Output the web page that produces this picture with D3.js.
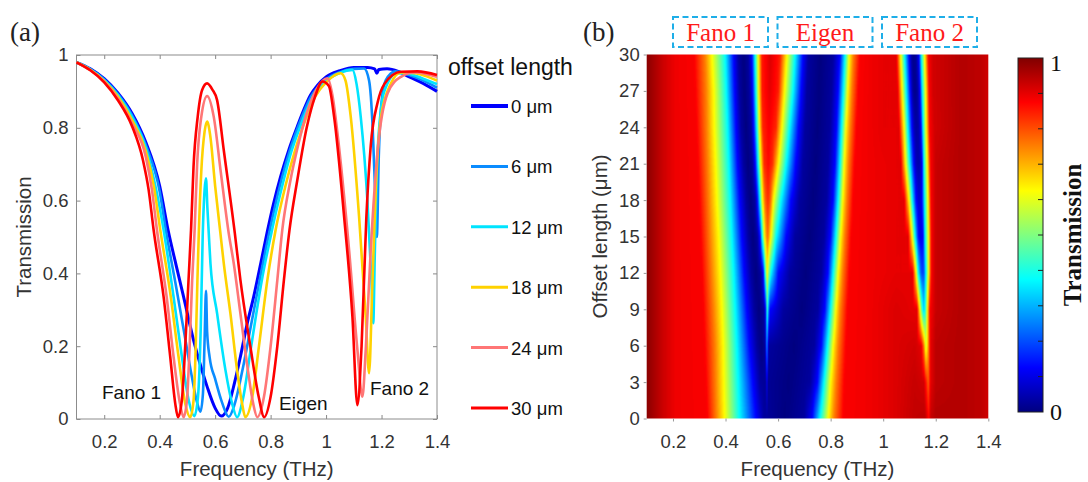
<!DOCTYPE html>
<html lang="en">
<head>
<meta charset="utf-8">
<title>Transmission vs offset length</title>
<script src="https://cdn.jsdelivr.net/npm/d3@7"></script>
<style>
  body { margin: 0; background: #fff; }
  svg { display: block; }
</style>
</head>
<body>
<svg id="chart" width="1088" height="482"></svg>
<script>

// ---- data ----
const offsets = [0, 6, 12, 18, 24, 30];
const offsetLabels = ["0 μm", "6 μm", "12 μm", "18 μm", "24 μm", "30 μm"];
const lineColors = ["#0000ff", "#0a8cff", "#00e4ff", "#ffd200", "#ff7676", "#ff0000"];

// transmission curves, [frequency THz, T]
const curve0 = [[0.1,0.98],[0.15,0.962],[0.2,0.935],[0.25,0.895],[0.3,0.84],[0.35,0.76],[0.4,0.64],[0.43,0.52],[0.46,0.42],[0.486,0.336],[0.522,0.217],[0.55,0.14],[0.571,0.089],[0.6,0.03],[0.622,0.008],[0.645,0.03],[0.67,0.1],[0.691,0.171],[0.715,0.26],[0.739,0.336],[0.765,0.43],[0.788,0.515],[0.81,0.59],[0.836,0.666],[0.866,0.74],[0.896,0.803],[0.92,0.85],[0.944,0.89],[0.97,0.918],[1.0,0.94],[1.05,0.957],[1.1,0.966],[1.15,0.966],[1.175,0.962],[1.183,0.95],[1.19,0.96],[1.22,0.962],[1.26,0.955],[1.3,0.94],[1.35,0.922],[1.4,0.9]];
const curve6 = [[0.1,0.98],[0.15,0.961],[0.2,0.933],[0.25,0.892],[0.3,0.835],[0.35,0.752],[0.4,0.625],[0.422,0.52],[0.46,0.36],[0.49,0.23],[0.515,0.12],[0.535,0.045],[0.547,0.02],[0.556,0.07],[0.562,0.22],[0.567,0.352],[0.571,0.24],[0.58,0.17],[0.6,0.11],[0.625,0.045],[0.649,0.006],[0.67,0.04],[0.7,0.14],[0.73,0.26],[0.76,0.38],[0.797,0.519],[0.84,0.66],[0.87,0.74],[0.9,0.805],[0.945,0.885],[1.0,0.933],[1.05,0.953],[1.1,0.962],[1.137,0.963],[1.155,0.93],[1.168,0.8],[1.177,0.62],[1.183,0.5],[1.19,0.72],[1.2,0.87],[1.215,0.93],[1.25,0.955],[1.3,0.945],[1.35,0.93],[1.4,0.91]];
const curve12 = [[0.1,0.98],[0.15,0.96],[0.2,0.931],[0.25,0.889],[0.3,0.83],[0.35,0.745],[0.39,0.62],[0.414,0.52],[0.45,0.336],[0.48,0.171],[0.505,0.05],[0.525,0.008],[0.538,0.06],[0.548,0.25],[0.555,0.5],[0.562,0.63],[0.567,0.661],[0.572,0.58],[0.577,0.51],[0.583,0.428],[0.607,0.29],[0.637,0.135],[0.661,0.043],[0.679,0.005],[0.7,0.055],[0.73,0.2],[0.768,0.38],[0.805,0.519],[0.845,0.65],[0.875,0.735],[0.905,0.8],[0.95,0.882],[1.0,0.928],[1.05,0.951],[1.095,0.959],[1.11,0.92],[1.125,0.83],[1.149,0.6],[1.164,0.373],[1.17,0.263],[1.176,0.464],[1.186,0.739],[1.21,0.9],[1.256,0.95],[1.3,0.948],[1.35,0.935],[1.4,0.92]];
const curve18 = [[0.1,0.98],[0.15,0.959],[0.2,0.929],[0.25,0.885],[0.3,0.822],[0.35,0.735],[0.38,0.635],[0.402,0.52],[0.44,0.336],[0.468,0.171],[0.492,0.043],[0.51,0.005],[0.522,0.05],[0.53,0.2],[0.536,0.38],[0.541,0.51],[0.55,0.68],[0.562,0.79],[0.571,0.817],[0.582,0.78],[0.6,0.64],[0.619,0.51],[0.631,0.428],[0.655,0.29],[0.679,0.135],[0.697,0.043],[0.709,0.005],[0.734,0.061],[0.758,0.2],[0.788,0.38],[0.818,0.519],[0.855,0.645],[0.885,0.73],[0.915,0.8],[0.96,0.885],[1.0,0.925],[1.053,0.95],[1.07,0.93],[1.089,0.83],[1.119,0.556],[1.143,0.281],[1.155,0.126],[1.167,0.373],[1.18,0.647],[1.198,0.83],[1.234,0.922],[1.27,0.952],[1.32,0.95],[1.36,0.942],[1.4,0.93]];
const curve24 = [[0.1,0.98],[0.15,0.958],[0.2,0.927],[0.25,0.88],[0.3,0.813],[0.35,0.72],[0.372,0.63],[0.39,0.52],[0.425,0.336],[0.45,0.171],[0.473,0.043],[0.486,0.005],[0.498,0.05],[0.508,0.2],[0.517,0.38],[0.526,0.52],[0.535,0.7],[0.55,0.83],[0.571,0.887],[0.595,0.83],[0.62,0.68],[0.649,0.51],[0.667,0.428],[0.691,0.29],[0.718,0.135],[0.737,0.043],[0.752,0.005],[0.776,0.061],[0.8,0.2],[0.824,0.38],[0.842,0.519],[0.87,0.65],[0.9,0.755],[0.93,0.84],[0.965,0.905],[1.005,0.936],[1.025,0.88],[1.041,0.785],[1.083,0.464],[1.113,0.19],[1.131,0.061],[1.143,0.19],[1.161,0.464],[1.186,0.739],[1.222,0.895],[1.27,0.94],[1.32,0.952],[1.36,0.948],[1.4,0.94]];
const curve30 = [[0.1,0.98],[0.15,0.958],[0.2,0.925],[0.25,0.875],[0.3,0.805],[0.34,0.71],[0.36,0.63],[0.378,0.52],[0.414,0.336],[0.438,0.171],[0.456,0.043],[0.466,0.005],[0.48,0.052],[0.492,0.199],[0.504,0.382],[0.513,0.519],[0.522,0.693],[0.537,0.83],[0.553,0.904],[0.571,0.922],[0.59,0.905],[0.607,0.876],[0.631,0.739],[0.671,0.51],[0.691,0.382],[0.727,0.199],[0.757,0.061],[0.777,0.005],[0.8,0.061],[0.824,0.199],[0.848,0.382],[0.868,0.519],[0.896,0.655],[0.93,0.8],[0.96,0.885],[0.987,0.927],[1.01,0.915],[1.029,0.83],[1.065,0.556],[1.095,0.281],[1.113,0.038],[1.128,0.2],[1.145,0.55],[1.161,0.75],[1.186,0.87],[1.21,0.92],[1.27,0.954],[1.33,0.955],[1.4,0.945]];
const curves = [curve0, curve6, curve12, curve18, curve24, curve30];

// colour map rows of panel (b): one row every 3 μm, [frequency THz, T]
const heatOffsets = [0, 3, 6, 9, 12, 15, 18, 21, 24, 27, 30];
const heat0 = [[0.1,0.99],[0.13,0.96],[0.17,0.92],[0.21,0.89],[0.33,0.88],[0.365,0.75],[0.395,0.63],[0.452,0.38],[0.515,0.13],[0.545,0.03],[0.625,0.0],[0.70,0.03],[0.73,0.13],[0.76,0.38],[0.792,0.63],[0.812,0.75],[0.848,0.88],[0.95,0.89],[1.05,0.91],[1.12,0.935],[1.16,0.94],[1.168,0.9],[1.174,0.87],[1.18,0.93],[1.2,0.95],[1.3,0.95],[1.37,0.94],[1.4,0.92]];
const heat3 = [[0.1,0.99],[0.13,0.96],[0.17,0.92],[0.21,0.89],[0.325,0.88],[0.362,0.75],[0.392,0.63],[0.447,0.38],[0.503,0.13],[0.531,0.03],[0.553,0.02],[0.557,0.12],[0.562,0.02],[0.64,0.0],[0.722,0.03],[0.75,0.13],[0.775,0.38],[0.8,0.63],[0.82,0.75],[0.852,0.88],[0.95,0.89],[1.05,0.91],[1.12,0.93],[1.155,0.92],[1.165,0.84],[1.172,0.78],[1.18,0.9],[1.2,0.94],[1.3,0.95],[1.37,0.94],[1.4,0.92]];
const heat6 = [[0.1,0.99],[0.13,0.96],[0.17,0.92],[0.21,0.89],[0.32,0.88],[0.36,0.75],[0.39,0.63],[0.442,0.38],[0.49,0.13],[0.519,0.03],[0.537,0.0],[0.551,0.03],[0.557,0.28],[0.564,0.03],[0.66,0.0],[0.738,0.03],[0.765,0.13],[0.788,0.38],[0.81,0.63],[0.828,0.75],[0.858,0.88],[0.95,0.89],[1.05,0.91],[1.12,0.92],[1.145,0.9],[1.155,0.75],[1.163,0.58],[1.17,0.7],[1.18,0.9],[1.2,0.94],[1.3,0.95],[1.37,0.94],[1.4,0.92]];
const heat9 = [[0.1,0.99],[0.13,0.96],[0.17,0.92],[0.21,0.89],[0.315,0.88],[0.354,0.75],[0.385,0.63],[0.436,0.38],[0.48,0.13],[0.508,0.03],[0.527,0.0],[0.546,0.03],[0.553,0.13],[0.558,0.42],[0.569,0.13],[0.62,0.03],[0.69,0.0],[0.752,0.03],[0.778,0.13],[0.8,0.38],[0.82,0.63],[0.836,0.75],[0.864,0.88],[0.95,0.89],[1.05,0.91],[1.128,0.9],[1.14,0.63],[1.146,0.45],[1.155,0.33],[1.162,0.45],[1.168,0.63],[1.178,0.88],[1.2,0.93],[1.3,0.95],[1.37,0.94],[1.4,0.92]];
const heat12 = [[0.1,0.99],[0.13,0.96],[0.17,0.92],[0.21,0.89],[0.31,0.88],[0.347,0.75],[0.379,0.63],[0.43,0.38],[0.47,0.13],[0.497,0.03],[0.515,0.0],[0.534,0.03],[0.544,0.13],[0.55,0.38],[0.558,0.62],[0.572,0.38],[0.601,0.13],[0.645,0.03],[0.705,0.0],[0.765,0.03],[0.79,0.13],[0.81,0.38],[0.829,0.63],[0.845,0.75],[0.871,0.88],[0.95,0.89],[1.05,0.9],[1.112,0.9],[1.125,0.63],[1.133,0.38],[1.143,0.22],[1.15,0.18],[1.156,0.22],[1.163,0.38],[1.173,0.63],[1.183,0.88],[1.2,0.93],[1.3,0.95],[1.37,0.94],[1.4,0.92]];
const heat15 = [[0.1,0.99],[0.13,0.96],[0.17,0.92],[0.21,0.89],[0.305,0.88],[0.341,0.75],[0.373,0.63],[0.423,0.38],[0.461,0.13],[0.487,0.03],[0.504,0.0],[0.521,0.03],[0.531,0.13],[0.539,0.38],[0.548,0.63],[0.56,0.78],[0.572,0.63],[0.592,0.38],[0.63,0.13],[0.664,0.03],[0.72,0.0],[0.775,0.03],[0.8,0.13],[0.82,0.38],[0.838,0.63],[0.853,0.75],[0.878,0.88],[0.95,0.89],[1.05,0.9],[1.095,0.9],[1.11,0.63],[1.121,0.38],[1.134,0.13],[1.143,0.1],[1.151,0.13],[1.16,0.38],[1.173,0.63],[1.183,0.88],[1.2,0.93],[1.3,0.95],[1.37,0.94],[1.4,0.92]];
const heat18 = [[0.1,0.99],[0.13,0.96],[0.17,0.92],[0.21,0.89],[0.3,0.88],[0.336,0.75],[0.366,0.63],[0.417,0.38],[0.453,0.13],[0.478,0.03],[0.495,0.0],[0.512,0.03],[0.521,0.13],[0.531,0.38],[0.54,0.63],[0.551,0.78],[0.561,0.83],[0.571,0.78],[0.582,0.63],[0.61,0.38],[0.648,0.13],[0.681,0.03],[0.733,0.0],[0.785,0.03],[0.81,0.13],[0.829,0.38],[0.846,0.63],[0.861,0.75],[0.885,0.88],[0.95,0.89],[1.05,0.9],[1.08,0.9],[1.098,0.63],[1.11,0.38],[1.125,0.13],[1.137,0.07],[1.147,0.13],[1.158,0.38],[1.171,0.63],[1.182,0.88],[1.2,0.93],[1.3,0.95],[1.37,0.94],[1.4,0.92]];
const heat21 = [[0.1,0.99],[0.13,0.96],[0.17,0.92],[0.21,0.89],[0.295,0.88],[0.332,0.75],[0.361,0.63],[0.412,0.38],[0.445,0.13],[0.468,0.03],[0.486,0.0],[0.503,0.03],[0.513,0.13],[0.524,0.38],[0.534,0.63],[0.546,0.83],[0.563,0.87],[0.579,0.83],[0.601,0.63],[0.63,0.38],[0.666,0.13],[0.694,0.03],[0.742,0.0],[0.791,0.03],[0.817,0.13],[0.836,0.38],[0.852,0.63],[0.867,0.75],[0.891,0.88],[0.95,0.89],[1.05,0.9],[1.067,0.9],[1.085,0.63],[1.1,0.38],[1.116,0.13],[1.124,0.06],[1.134,0.04],[1.142,0.06],[1.148,0.13],[1.155,0.38],[1.168,0.63],[1.18,0.88],[1.2,0.93],[1.3,0.95],[1.37,0.94],[1.4,0.92]];
const heat24 = [[0.1,0.99],[0.13,0.96],[0.17,0.92],[0.21,0.89],[0.29,0.88],[0.328,0.75],[0.356,0.63],[0.407,0.38],[0.439,0.13],[0.459,0.03],[0.478,0.0],[0.497,0.03],[0.507,0.13],[0.519,0.38],[0.529,0.63],[0.541,0.84],[0.566,0.88],[0.592,0.84],[0.614,0.63],[0.643,0.38],[0.677,0.13],[0.702,0.03],[0.75,0.0],[0.798,0.03],[0.823,0.13],[0.842,0.38],[0.858,0.63],[0.874,0.75],[0.898,0.88],[0.95,0.89],[1.0,0.9],[1.06,0.9],[1.079,0.63],[1.093,0.38],[1.109,0.13],[1.118,0.05],[1.127,0.03],[1.136,0.05],[1.144,0.13],[1.152,0.38],[1.164,0.63],[1.177,0.88],[1.195,0.92],[1.3,0.95],[1.37,0.94],[1.4,0.92]];
const heat27 = [[0.1,0.99],[0.13,0.96],[0.17,0.92],[0.21,0.89],[0.285,0.88],[0.326,0.75],[0.354,0.63],[0.402,0.38],[0.434,0.13],[0.453,0.03],[0.472,0.0],[0.491,0.03],[0.503,0.13],[0.515,0.38],[0.526,0.63],[0.539,0.85],[0.568,0.9],[0.601,0.85],[0.624,0.63],[0.656,0.38],[0.687,0.13],[0.709,0.03],[0.756,0.0],[0.804,0.03],[0.829,0.13],[0.849,0.38],[0.865,0.63],[0.88,0.75],[0.905,0.88],[0.95,0.89],[1.0,0.9],[1.055,0.9],[1.072,0.63],[1.087,0.38],[1.103,0.13],[1.112,0.03],[1.121,0.01],[1.131,0.03],[1.14,0.13],[1.149,0.38],[1.162,0.63],[1.175,0.88],[1.19,0.92],[1.3,0.95],[1.37,0.94],[1.4,0.92]];
const heat30 = [[0.1,0.99],[0.13,0.96],[0.17,0.92],[0.21,0.89],[0.28,0.88],[0.322,0.75],[0.347,0.63],[0.398,0.38],[0.43,0.13],[0.449,0.03],[0.468,0.0],[0.487,0.03],[0.5,0.13],[0.512,0.38],[0.525,0.63],[0.538,0.85],[0.57,0.91],[0.607,0.85],[0.633,0.63],[0.664,0.38],[0.694,0.13],[0.715,0.03],[0.762,0.0],[0.81,0.03],[0.836,0.13],[0.855,0.38],[0.871,0.63],[0.886,0.75],[0.912,0.88],[0.95,0.89],[1.0,0.9],[1.05,0.9],[1.066,0.63],[1.081,0.38],[1.098,0.13],[1.107,0.03],[1.115,0.01],[1.126,0.03],[1.136,0.13],[1.145,0.38],[1.158,0.63],[1.172,0.88],[1.19,0.92],[1.3,0.95],[1.37,0.94],[1.4,0.92]];
const heatRows = [heat0, heat3, heat6, heat9, heat12, heat15, heat18, heat21, heat24, heat27, heat30];

const freqTicks = [0.2, 0.4, 0.6, 0.8, 1, 1.2, 1.4];
const transTicks = [0, 0.2, 0.4, 0.6, 0.8, 1];
const offsetTicks = [0, 3, 6, 9, 12, 15, 18, 21, 24, 27, 30];
const modeLabels = ["Fano 1", "Eigen", "Fano 2"];

// ---- setup ----
const sans = "'Liberation Sans', Arial, sans-serif";
const serif = "'Liberation Serif', 'Times New Roman', serif";
const svg = d3.select("#chart");

// jet colour map
const jet = d3.scaleLinear()
  .domain([0, 0.125, 0.375, 0.625, 0.875, 1])
  .range(["#000080", "#0000ff", "#00ffff", "#ffff00", "#ff0000", "#800000"])
  .clamp(true);

function styleAxis(g, col) {
  g.select(".domain").remove();
  g.selectAll(".tick line").attr("stroke", col);
  g.attr("font-family", sans).attr("font-size", 18.5);
  g.selectAll(".tick text").attr("fill", "#333");
}

// ================= panel (a) =================
const xa = d3.scaleLinear([0.1, 1.4], [76.5, 437]);
const ya = d3.scaleLinear([0, 1], [419, 55]);
const fmt = d3.format("~g");
const ga = svg.append("g");

ga.append("g").attr("transform", `translate(0,${ya(0)})`)
  .call(d3.axisBottom(xa).tickValues(freqTicks).tickFormat(fmt).tickSizeInner(-4).tickSizeOuter(0).tickPadding(16))
  .call(styleAxis, "#888");
ga.append("g").attr("transform", `translate(0,${ya(1)})`)
  .call(d3.axisTop(xa).tickValues(freqTicks).tickFormat("").tickSizeInner(-4).tickSizeOuter(0))
  .call(styleAxis, "#888");
ga.append("g").attr("transform", `translate(${xa(0.1)},0)`)
  .call(d3.axisLeft(ya).tickValues(transTicks).tickFormat(fmt).tickSizeInner(-4).tickSizeOuter(0).tickPadding(8))
  .call(styleAxis, "#888");
ga.append("g").attr("transform", `translate(${xa(1.4)},0)`)
  .call(d3.axisRight(ya).tickValues(transTicks).tickFormat("").tickSizeInner(-4).tickSizeOuter(0))
  .call(styleAxis, "#888");

ga.append("rect")
  .attr("x", xa(0.1)).attr("y", ya(1))
  .attr("width", xa(1.4) - xa(0.1)).attr("height", ya(0) - ya(1))
  .attr("fill", "none").attr("stroke", "#8c8c8c").attr("stroke-width", 1);

const line = d3.line()
  .x(d => xa(d[0]))
  .y(d => ya(d[1]))
  .curve(d3.curveMonotoneX);

ga.selectAll("path.curve")
  .data(curves)
  .enter().append("path")
  .attr("class", "curve")
  .attr("d", line)
  .attr("fill", "none")
  .attr("stroke", (d, i) => lineColors[i])
  .attr("stroke-width", (d, i) => i === 0 ? 3 : 2.6)
  .attr("stroke-linejoin", "round");

// mode annotations
ga.append("text").attr("x", 102).attr("y", 399).text(modeLabels[0])
  .attr("font-family", sans).attr("font-size", 19).attr("fill", "#111");
ga.append("text").attr("x", 279).attr("y", 410).text(modeLabels[1])
  .attr("font-family", sans).attr("font-size", 19).attr("fill", "#111");
ga.append("text").attr("x", 370).attr("y", 395).text(modeLabels[2])
  .attr("font-family", sans).attr("font-size", 19).attr("fill", "#111");

// axis titles
ga.append("text")
  .attr("x", (xa(0.1) + xa(1.4)) / 2).attr("y", 476)
  .attr("text-anchor", "middle")
  .attr("font-family", sans).attr("font-size", 20.5).attr("fill", "#333")
  .text("Frequency (THz)");
ga.append("text")
  .attr("transform", `translate(31,${(ya(0) + ya(1)) / 2}) rotate(-90)`)
  .attr("text-anchor", "middle")
  .attr("font-family", sans).attr("font-size", 20.5).attr("fill", "#333")
  .text("Transmission");

ga.append("text").attr("x", 10).attr("y", 41).text("(a)")
  .attr("font-family", serif).attr("font-size", 27).attr("fill", "#222");

// legend
const legY = d3.scalePoint().domain(offsets).range([106, 408]);
ga.append("text").attr("x", 448).attr("y", 75).text("offset length")
  .attr("font-family", sans).attr("font-size", 23).attr("fill", "#111");
const leg = ga.selectAll("g.leg")
  .data(offsets)
  .enter().append("g").attr("class", "leg")
  .attr("transform", d => `translate(0,${legY(d)})`);
leg.append("line")
  .attr("x1", 471).attr("x2", 508)
  .attr("stroke", (d, i) => lineColors[i])
  .attr("stroke-width", (d, i) => i === 0 ? 4 : 3);
leg.append("text")
  .attr("x", 511).attr("y", 7)
  .attr("font-family", sans).attr("font-size", 18.5).attr("fill", "#111")
  .text((d, i) => offsetLabels[i]);

// ================= panel (b) =================
const xh = d3.scaleLinear([0.1, 1.4], [646.7, 988.3]);
const yh = d3.scaleLinear([0, 30], [418.5, 54.5]);
const gb = svg.append("g");

// rasterise the colour map: each row is a piecewise-linear scale in frequency,
// columns are blended between neighbouring rows (shading interp)
const W = Math.round(xh(1.4) - xh(0.1));
const H = Math.round(yh(0) - yh(30));
const canvas = document.createElement("canvas");
canvas.width = W; canvas.height = H;
const ctx = canvas.getContext("2d");
const img = ctx.createImageData(W, H);
const rowScales = heatRows.map(r => d3.scaleLinear(r.map(p => p[0]), r.map(p => p[1])).clamp(true));
const lut = d3.range(256).map(k => d3.rgb(jet(k / 255)));
for (let px = 0; px < W; px++) {
  const f = xh.invert(xh(0.1) + (px + 0.5) * (xh(1.4) - xh(0.1)) / W);
  const col = d3.scaleLinear(heatOffsets, rowScales.map(s => s(f))).clamp(true);
  for (let py = 0; py < H; py++) {
    const o = yh.invert(yh(30) + (py + 0.5) * (yh(0) - yh(30)) / H);
    const v = Math.max(0, Math.min(1, col(o)));
    const c = lut[Math.round(v * 255)];
    const k = (py * W + px) * 4;
    img.data[k] = c.r; img.data[k + 1] = c.g; img.data[k + 2] = c.b; img.data[k + 3] = 255;
  }
}
ctx.putImageData(img, 0, 0);

gb.append("image")
  .attr("x", xh(0.1)).attr("y", yh(30))
  .attr("width", xh(1.4) - xh(0.1)).attr("height", yh(0) - yh(30))
  .attr("preserveAspectRatio", "none")
  .attr("href", canvas.toDataURL());

gb.append("g").attr("transform", `translate(0,${yh(0)})`)
  .call(d3.axisBottom(xh).tickValues(freqTicks).tickFormat(fmt).tickSizeInner(3).tickSizeOuter(0).tickPadding(13))
  .call(styleAxis, "#999");
gb.append("g").attr("transform", `translate(${xh(0.1)},0)`)
  .call(d3.axisLeft(yh).tickValues(offsetTicks).tickSizeInner(3).tickSizeOuter(0).tickPadding(4))
  .call(styleAxis, "#999");

gb.append("text")
  .attr("x", (xh(0.1) + xh(1.4)) / 2).attr("y", 476)
  .attr("text-anchor", "middle")
  .attr("font-family", sans).attr("font-size", 20.5).attr("fill", "#333")
  .text("Frequency (THz)");
gb.append("text")
  .attr("transform", `translate(607,${(yh(0) + yh(30)) / 2}) rotate(-90)`)
  .attr("text-anchor", "middle")
  .attr("font-family", sans).attr("font-size", 20.5).attr("fill", "#333")
  .text("Offset length (μm)");

gb.append("text").attr("x", 583).attr("y", 41).text("(b)")
  .attr("font-family", serif).attr("font-size", 27).attr("fill", "#222");

// dashed mode boxes above the map
const boxX = d3.scalePoint().domain(modeLabels).range([720.5, 929.5]);
const box = gb.selectAll("g.mode")
  .data(modeLabels)
  .enter().append("g").attr("class", "mode")
  .attr("transform", d => `translate(${boxX(d)},0)`);
box.append("rect")
  .attr("x", -47.5).attr("y", 17).attr("width", 95).attr("height", 30)
  .attr("fill", "none").attr("stroke", "#1eaee8").attr("stroke-width", 2)
  .attr("stroke-dasharray", "6,3.5");
box.append("text")
  .attr("y", 41).attr("text-anchor", "middle")
  .attr("font-family", serif).attr("font-size", 25).attr("fill", "#ff1a1a")
  .text(d => d);

// colour bar
const cb = d3.scaleLinear([0, 1], [412, 58]);
const grad = svg.append("defs").append("linearGradient")
  .attr("id", "jetGrad").attr("x1", 0).attr("y1", 1).attr("x2", 0).attr("y2", 0);
grad.selectAll("stop")
  .data(d3.range(0, 1.0001, 0.0625))
  .enter().append("stop")
  .attr("offset", d => d)
  .attr("stop-color", d => jet(d));
gb.append("rect")
  .attr("x", 1018).attr("y", cb(1)).attr("width", 25).attr("height", cb(0) - cb(1))
  .attr("fill", "url(#jetGrad)").attr("stroke", "#222").attr("stroke-width", 1);
gb.selectAll("line.cbt")
  .data(d3.range(1, 10).map(k => k / 10))
  .enter().append("line").attr("class", "cbt")
  .attr("x1", 1038).attr("x2", 1043)
  .attr("y1", d => cb(d)).attr("y2", d => cb(d))
  .attr("stroke", "#222");
gb.selectAll("text.cbl")
  .data([0, 1])
  .enter().append("text").attr("class", "cbl")
  .attr("x", 1050).attr("y", d => cb(d) + (d === 1 ? 5 : 0))
  .attr("dy", "0.35em")
  .attr("font-family", serif).attr("font-size", 24).attr("fill", "#111")
  .text(d => d);
gb.append("text")
  .attr("transform", `translate(1081,${(cb(0) + cb(1)) / 2}) rotate(-90)`)
  .attr("text-anchor", "middle")
  .attr("font-family", serif).attr("font-size", 25).attr("font-weight", "bold").attr("fill", "#111")
  .text("Transmission");

</script>
</body>
</html>
